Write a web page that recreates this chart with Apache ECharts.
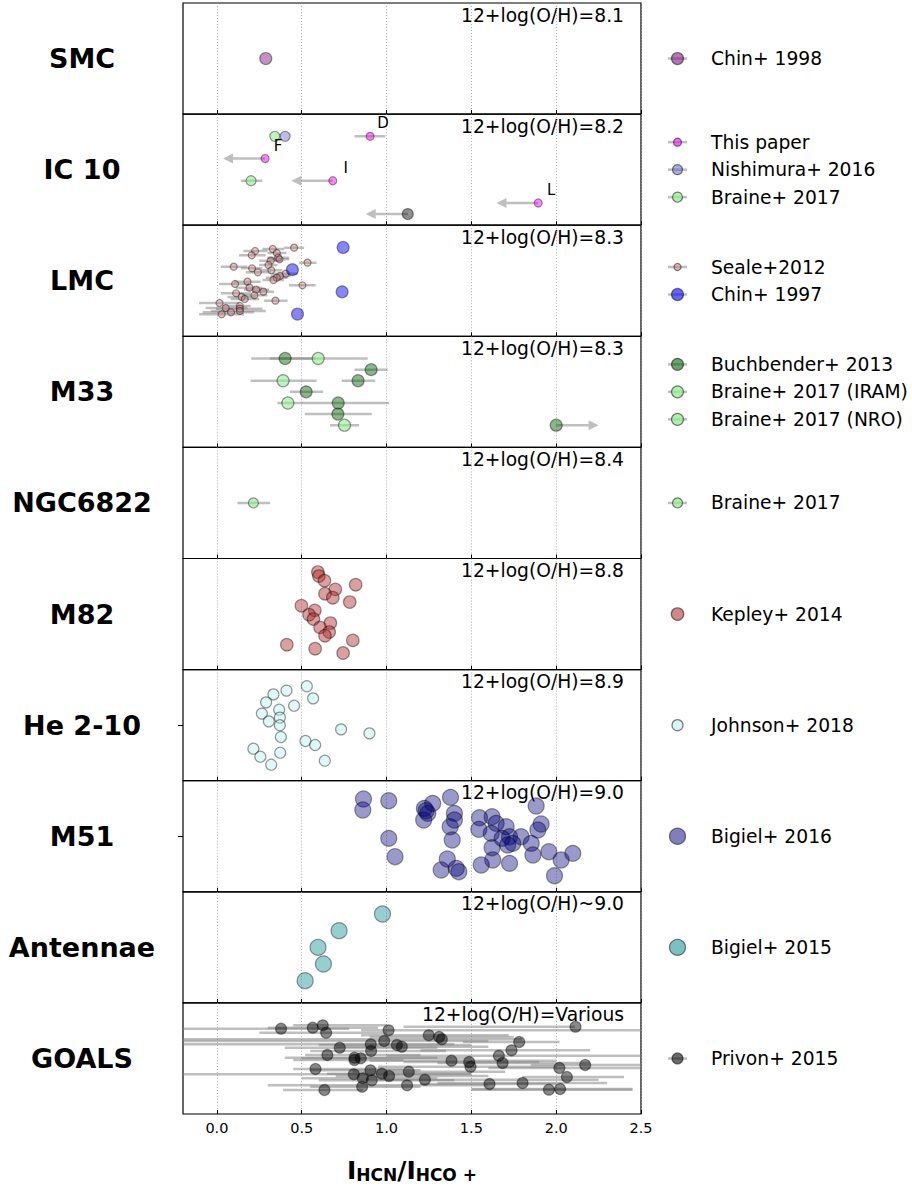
<!DOCTYPE html>
<html><head><meta charset="utf-8">
<script src="https://cdn.jsdelivr.net/npm/echarts@6/dist/echarts.min.js"></script>
<style>html,body{margin:0;padding:0;background:#fff}#c{width:912px;height:1190px}</style>
</head><body><div id="c"></div>
<script>
// ---------------- data ----------------
const xTickValues = [0, 0.5, 1.0, 1.5, 2.0, 2.5];
const galaxyNames = ['SMC', 'IC 10', 'LMC', 'M33', 'NGC6822', 'M82', 'He 2-10', 'M51', 'Antennae', 'GOALS'];
const metallicityLabels = ['12+log(O/H)=8.1', '12+log(O/H)=8.2', '12+log(O/H)=8.3', '12+log(O/H)=8.3',
  '12+log(O/H)=8.4', '12+log(O/H)=8.8', '12+log(O/H)=8.9', '12+log(O/H)=9.0', '12+log(O/H)~9.0', '12+log(O/H)=Various'];

// [x, y(position in panel 0-100), xErrLow, xErrHigh]
const smcChin1998 = [[0.288, 50, null, null]];

const ic10ThisPaper = [[0.903, 80, 0.811, 0.992], [0.284, 60, null, null], [0.683, 40, null, null], [1.894, 20, null, null]];
const ic10ThisPaperLabels = ['D', 'F', 'I', 'L'];
const ic10ThisPaperLimits = [[0.284, 60, 0.036], [0.683, 40, 0.439], [1.894, 20, 1.648]]; // [x, y, arrow tip]
const ic10Nishimura = [[0.402, 80, null, null]];
const ic10Braine = [[0.341, 80, null, null], [0.201, 40, 0.141, 0.268]];
const ic10Other = [[1.125, 10, null, null]];
const ic10OtherLimits = [[1.125, 10, 0.877]];

const lmcSeale = [
  [0.455, 79.8, 0.396, 0.514], [0.225, 76.8, 0.156, 0.298], [0.329, 78.6, 0.268, 0.396], [0.353, 75.0, 0.298, 0.410],
  [0.205, 72.9, 0.131, 0.288], [0.361, 70.8, 0.298, 0.426], [0.369, 69.3, 0.308, 0.426], [0.317, 68.1, 0.249, 0.386],
  [0.534, 66.3, 0.485, 0.587], [0.304, 64.2, 0.249, 0.357], [0.099, 62.7, 0.023, 0.180], [0.207, 61.2, 0.141, 0.268],
  [0.241, 57.6, 0.170, 0.317], [0.321, 59.4, 0.258, 0.386], [0.406, 56.4, 0.327, 0.475], [0.372, 54.3, 0.317, 0.435],
  [0.353, 52.8, 0.288, 0.416], [0.333, 50.7, 0.268, 0.396], [0.180, 49.2, 0.101, 0.258], [0.107, 47.1, 0.013, 0.190],
  [0.504, 45.9, 0.425, 0.583], [0.192, 43.8, 0.111, 0.268], [0.231, 42.0, 0.160, 0.308], [0.274, 40.2, 0.209, 0.337],
  [0.113, 38.7, 0.023, 0.199], [0.221, 36.9, 0.150, 0.298], [0.146, 35.4, 0.062, 0.229], [0.164, 33.6, 0.082, 0.249],
  [0.345, 32.1, 0.278, 0.416], [0.015, 30.0, -0.105, 0.131], [0.135, 27.3, 0.032, 0.199], [0.052, 25.5, -0.066, 0.180],
  [0.135, 24.9, -0.007, 0.268], [0.135, 22.8, -0.036, 0.288], [0.083, 21.6, -0.085, 0.219], [0.028, 19.8, -0.105, 0.160]
];
const lmcChin1997 = [[0.744, 80, null, null], [0.445, 60, null, null], [0.738, 40, null, null], [0.475, 20, null, null]];

const m33Buchbender = [[0.402, 80, 0.312, 0.583], [0.909, 70, 0.811, 1.007], [0.832, 60, 0.736, 0.933], [0.526, 50, 0.430, 0.626],
  [0.715, 40, 0.500, 1.015], [0.713, 30, 0.518, 0.913], [2.0, 20, null, null]];
const m33BuchbenderLimits = [[2.0, 20, 2.25]];
const m33BraineIRAM = [[0.597, 80, 0.202, 0.889], [0.390, 60, 0.198, 0.587]];
const m33BraineNRO = [[0.418, 40, 0.357, 0.504], [0.752, 20, 0.667, 0.838]];

const ngc6822Braine = [[0.215, 50, 0.121, 0.314]];

const m82Kepley = [
  [0.595, 87.8], [0.601, 84.2], [0.634, 80.0], [0.818, 76.4], [0.698, 72.2], [0.637, 68.3], [0.683, 64.7], [0.783, 60.8],
  [0.498, 57.5], [0.577, 53.3], [0.543, 49.4], [0.569, 45.5], [0.669, 41.9], [0.608, 38.0], [0.662, 33.8], [0.637, 30.5],
  [0.801, 26.3], [0.412, 22.4], [0.579, 18.8], [0.744, 14.9]
];

const he210Johnson = [
  [0.530, 85.0], [0.410, 81.1], [0.567, 74.1], [0.333, 77.7], [0.290, 70.5], [0.455, 67.5], [0.367, 63.9], [0.265, 60.4],
  [0.371, 56.8], [0.306, 53.4], [0.371, 49.9], [0.732, 46.2], [0.899, 42.6], [0.377, 39.3], [0.522, 35.7], [0.579, 32.1],
  [0.215, 28.8], [0.373, 25.2], [0.256, 21.6], [0.636, 18.0], [0.320, 14.4]
];

const m51Bigiel2016 = [
  [0.864, 83.5], [0.860, 73.6], [1.013, 82.0], [1.013, 48.1], [1.050, 31.6], [1.223, 75.1], [1.243, 70.6], [1.272, 79.6],
  [1.219, 64.6], [1.233, 73.0], [1.377, 85.0], [1.400, 70.6], [1.375, 58.6], [1.387, 46.6], [1.400, 64.6], [1.358, 29.5],
  [1.322, 19.6], [1.411, 21.1], [1.426, 18.1], [1.548, 66.7], [1.544, 56.2], [1.622, 67.6], [1.646, 61.6], [1.705, 58.6],
  [1.617, 52.6], [1.725, 49.6], [1.793, 49.6], [1.622, 39.7], [1.681, 48.1], [1.714, 42.1], [1.744, 43.6], [1.626, 28.6],
  [1.725, 25.6], [1.558, 24.1], [1.882, 77.2], [1.911, 61.0], [1.892, 55.6], [1.853, 43.6], [1.863, 33.1], [1.957, 36.1],
  [2.029, 28.6], [2.098, 34.6], [1.990, 14.5]
];

const antennaeBigiel2015 = [[0.976, 80], [0.720, 65], [0.596, 50], [0.628, 35], [0.520, 20]];

const goalsPrivon = [
  [0.378, 76.8, -0.2, 0.78], [0.565, 77.7, 0.30, 0.95], [0.624, 79.8, 0.45, 1.00], [0.644, 73.2, 0.25, 1.00],
  [1.012, 75.3, 0.85, 2.50], [2.114, 78.6, 1.10, 2.11], [1.249, 70.8, 0.85, 1.72], [1.310, 69.3, 0.90, 1.75],
  [1.326, 67.2, -0.2, 1.80], [0.986, 65.7, -0.2, 1.60], [0.907, 62.7, -0.2, 1.40], [1.061, 62.1, 0.60, 1.50],
  [1.090, 60.6, 0.70, 1.60], [1.782, 64.8, 1.45, 2.02], [0.724, 59.7, 0.40, 1.30], [0.909, 56.7, 0.55, 1.35],
  [1.737, 57.3, 1.20, 2.20], [0.651, 53.1, 0.52, 1.20], [0.811, 50.7, 0.40, 1.30], [0.848, 50.1, 0.50, 1.50],
  [0.811, 48.6, 0.45, 1.10], [1.662, 52.5, 1.00, 2.50], [1.383, 48.0, 0.90, 2.00], [1.487, 46.8, 1.10, 1.90],
  [1.495, 42.6, 0.95, 2.00], [1.684, 45.9, 1.30, 2.20], [2.019, 41.4, 1.60, 2.50], [2.171, 44.1, 1.85, 2.50],
  [0.581, 40.5, 0.45, 1.10], [0.905, 39.3, 0.55, 1.20], [0.807, 35.7, -0.2, 1.50], [0.972, 36.3, 0.65, 1.50],
  [1.015, 34.2, 0.70, 1.60], [0.860, 32.1, 0.50, 1.30], [0.913, 30.3, 0.60, 1.40], [1.131, 38.1, 0.80, 1.70],
  [1.226, 30.9, 0.95, 2.25], [2.063, 33.3, 1.80, 2.40], [1.121, 25.8, 0.30, 1.60], [0.856, 24.6, 0.55, 1.20],
  [1.607, 27.0, 1.20, 2.00], [1.802, 27.9, 1.30, 2.30], [0.634, 21.6, 0.39, 0.86], [1.957, 21.9, 1.50, 2.45],
  [2.023, 22.5, 1.50, 2.45]
];

// ---------------- styling / layout ----------------
const EDGE = 'rgba(0,0,0,0.5)';
const ERRC = 'rgba(128,128,128,0.5)';
const FONT = '"DejaVu Sans", sans-serif';
const GREEN = 'rgba(144,238,144,0.75)';

const seriesDefs = [
  { name: 'Chin+ 1998', panel: 0, data: smcChin1998, color: 'rgba(128,0,128,0.55)', size: 12, bar: true },
  { name: 'This paper', panel: 1, data: ic10ThisPaper, color: 'rgba(255,0,255,0.6)', size: 8, bar: true, labels: ic10ThisPaperLabels },
  { name: 'Nishimura+ 2016', panel: 1, data: ic10Nishimura, color: 'rgba(90,90,200,0.5)', size: 10, bar: true },
  { name: 'Braine+ 2017', panel: 1, data: ic10Braine, color: GREEN, size: 10, bar: true },
  { name: 'IC10 limit', panel: 1, data: ic10Other, color: 'rgba(0,0,0,0.55)', size: 11, legend: false },
  { name: 'Seale+2012', panel: 2, data: lmcSeale, color: 'rgba(205,120,120,0.5)', size: 7, bar: true },
  { name: 'Chin+ 1997', panel: 2, data: lmcChin1997, color: 'rgba(0,0,255,0.6)', size: 12, bar: true },
  { name: 'Buchbender+ 2013', panel: 3, data: m33Buchbender, color: 'rgba(0,100,0,0.58)', size: 12, bar: true },
  { name: 'Braine+ 2017 (IRAM)', panel: 3, data: m33BraineIRAM, color: GREEN, size: 12, bar: true },
  { name: 'Braine+ 2017 (NRO)', panel: 3, data: m33BraineNRO, color: GREEN, size: 12, bar: true },
  { name: 'Braine+ 2017', panel: 4, data: ngc6822Braine, color: GREEN, size: 10, bar: true },
  { name: 'Kepley+ 2014', panel: 5, data: m82Kepley, color: 'rgba(178,34,34,0.55)', size: 12.5, bar: false },
  { name: 'Johnson+ 2018', panel: 6, data: he210Johnson, color: 'rgba(175,238,238,0.5)', size: 11, bar: false },
  { name: 'Bigiel+ 2016', panel: 7, data: m51Bigiel2016, color: 'rgba(0,0,128,0.5)', size: 16, bar: false },
  { name: 'Bigiel+ 2015', panel: 8, data: antennaeBigiel2015, color: 'rgba(0,139,139,0.52)', size: 16, bar: false },
  { name: 'Privon+ 2015', panel: 9, data: goalsPrivon, color: 'rgba(0,0,0,0.58)', size: 11, bar: true }
];
const limitDefs = [
  { panel: 1, data: ic10ThisPaperLimits },
  { panel: 1, data: ic10OtherLimits },
  { panel: 3, data: m33BuchbenderLimits }
];

const PLOT_LEFT = 183, PLOT_W = 458, PLOT_TOP = 3, PANEL_H = 111.1;
const panelTop = i => PLOT_TOP + i * PANEL_H;
const panelCenter = i => panelTop(i) + PANEL_H / 2;

const grids = [], xAxes = [], yAxes = [], series = [], graphics = [];

galaxyNames.forEach((g, i) => {
  grids.push({ left: PLOT_LEFT, top: panelTop(i), width: PLOT_W, height: PANEL_H, show: true,
    borderColor: '#000', borderWidth: 1.2, backgroundColor: 'transparent' });
  const last = i === galaxyNames.length - 1;
  xAxes.push({
    type: 'value', gridIndex: i, min: -0.2, max: 2.5,
    axisLine: { show: false, onZero: false },
    axisTick: { show: true, inside: true, length: 4, lineStyle: { color: '#000', width: 1 }, customValues: xTickValues },
    axisLabel: { show: last, customValues: xTickValues, formatter: v => v.toFixed(1), fontSize: 14.5, color: '#000', fontFamily: FONT, margin: 6 },
    splitLine: { show: true, lineStyle: { type: [1, 2], color: '#999', width: 0.8 } },
    name: last ? '{m|I}{s|HCN}{m|/I}{s|HCO +}' : '',
    nameLocation: 'middle', nameGap: 37,
    nameTextStyle: { rich: {
      m: { fontSize: 25, fontWeight: 'bold', fontFamily: FONT, color: '#000', lineHeight: 32, verticalAlign: 'bottom' },
      s: { fontSize: 17, fontWeight: 'bold', fontFamily: FONT, color: '#000', lineHeight: 17, padding: [14, 0, 0, 0], verticalAlign: 'bottom' }
    } }
  });
  const midTick = (i === 6 || i === 7);
  yAxes.push({
    type: 'value', gridIndex: i, min: 0, max: 100, position: 'left',
    axisLine: { show: false, onZero: false }, axisLabel: { show: false }, splitLine: { show: false },
    axisTick: { show: midTick, inside: false, length: 5, lineStyle: { color: '#000' }, customValues: [50] }
  });
  graphics.push({ type: 'text', x: 82, y: panelCenter(i), style: { text: g, font: 'bold 27px ' + FONT, fill: '#000', align: 'center', verticalAlign: 'middle' } });
  graphics.push({ type: 'text', x: 624, y: panelTop(i) + 12, style: { text: metallicityLabels[i], font: '18.7px ' + FONT, fill: '#000', align: 'right', verticalAlign: 'middle' } });
});

function renderBar(params, api) {
  const y = api.value(1), lo = api.value(2), hi = api.value(3);
  const a = api.coord([lo, y]), b = api.coord([hi, y]);
  return { type: 'line', shape: { x1: a[0], y1: a[1], x2: b[0], y2: b[1] }, style: { stroke: ERRC, lineWidth: 2.5 } };
}
function renderArrow(params, api) {
  const x = api.value(0), y = api.value(1), tip = api.value(2);
  const p = api.coord([x, y]), t = api.coord([tip, y]);
  const dir = t[0] > p[0] ? 1 : -1;
  const headLen = 10, headW = 5;
  const base = t[0] - dir * headLen;
  return { type: 'group', children: [
    { type: 'line', shape: { x1: p[0], y1: p[1], x2: base, y2: p[1] }, style: { stroke: ERRC, lineWidth: 2.5 } },
    { type: 'polygon', shape: { points: [[t[0], t[1]], [base, t[1] - headW], [base, t[1] + headW]] }, style: { fill: ERRC } }
  ] };
}

seriesDefs.forEach(d => {
  const bars = d.data.filter(r => r[2] !== null && r[2] !== undefined);
  if (bars.length) {
    series.push({ type: 'custom', coordinateSystem: 'cartesian2d', xAxisIndex: d.panel, yAxisIndex: d.panel,
      data: bars, encode: { x: [2, 3], y: 1 }, renderItem: renderBar, z: 1, silent: true, animation: false, clip: true });
  }
});
limitDefs.forEach(l => {
  series.push({ type: 'custom', coordinateSystem: 'cartesian2d', xAxisIndex: l.panel, yAxisIndex: l.panel,
    data: l.data, encode: { x: [0, 2], y: 1 }, renderItem: renderArrow, z: 1, silent: true, animation: false });
});
seriesDefs.forEach(d => {
  const s = {
    type: 'scatter', name: d.name, xAxisIndex: d.panel, yAxisIndex: d.panel,
    data: d.data.map(r => [r[0], r[1]]), symbol: 'circle', symbolSize: d.size,
    itemStyle: { color: d.color, borderColor: EDGE, borderWidth: 1.2 },
    z: 3, silent: true, animation: false, emphasis: { disabled: true }
  };
  if (d.labels) {
    s.label = { show: true, formatter: p => d.labels[p.dataIndex], position: 'inside', offset: [13, -13],
      fontSize: 15, color: '#000', opacity: 1, fontFamily: FONT, textBorderWidth: 0 };
  }
  series.push(s);
});

// legend (one block per panel)
galaxyNames.forEach((g, i) => {
  const entries = seriesDefs.filter(d => d.panel === i && d.legend !== false);
  entries.forEach((d, k) => {
    const cy = panelCenter(i) + (k - (entries.length - 1) / 2) * 27.5;
    if (d.bar) graphics.push({ type: 'line', shape: { x1: 668, y1: cy, x2: 687, y2: cy }, style: { stroke: ERRC, lineWidth: 2.5 } });
    graphics.push({ type: 'circle', shape: { cx: 677.5, cy: cy, r: d.size / 2 }, style: { fill: d.color, stroke: EDGE, lineWidth: 1.2 } });
    graphics.push({ type: 'text', x: 711, y: cy, style: { text: d.name, font: '18.7px ' + FONT, fill: '#000', align: 'left', verticalAlign: 'middle' } });
  });
});

const chart = echarts.init(document.getElementById('c'), null, { renderer: 'svg' });
chart.setOption({
  backgroundColor: '#fff', animation: false,
  grid: grids, xAxis: xAxes, yAxis: yAxes, series: series, graphic: graphics
});
</script></body></html>
